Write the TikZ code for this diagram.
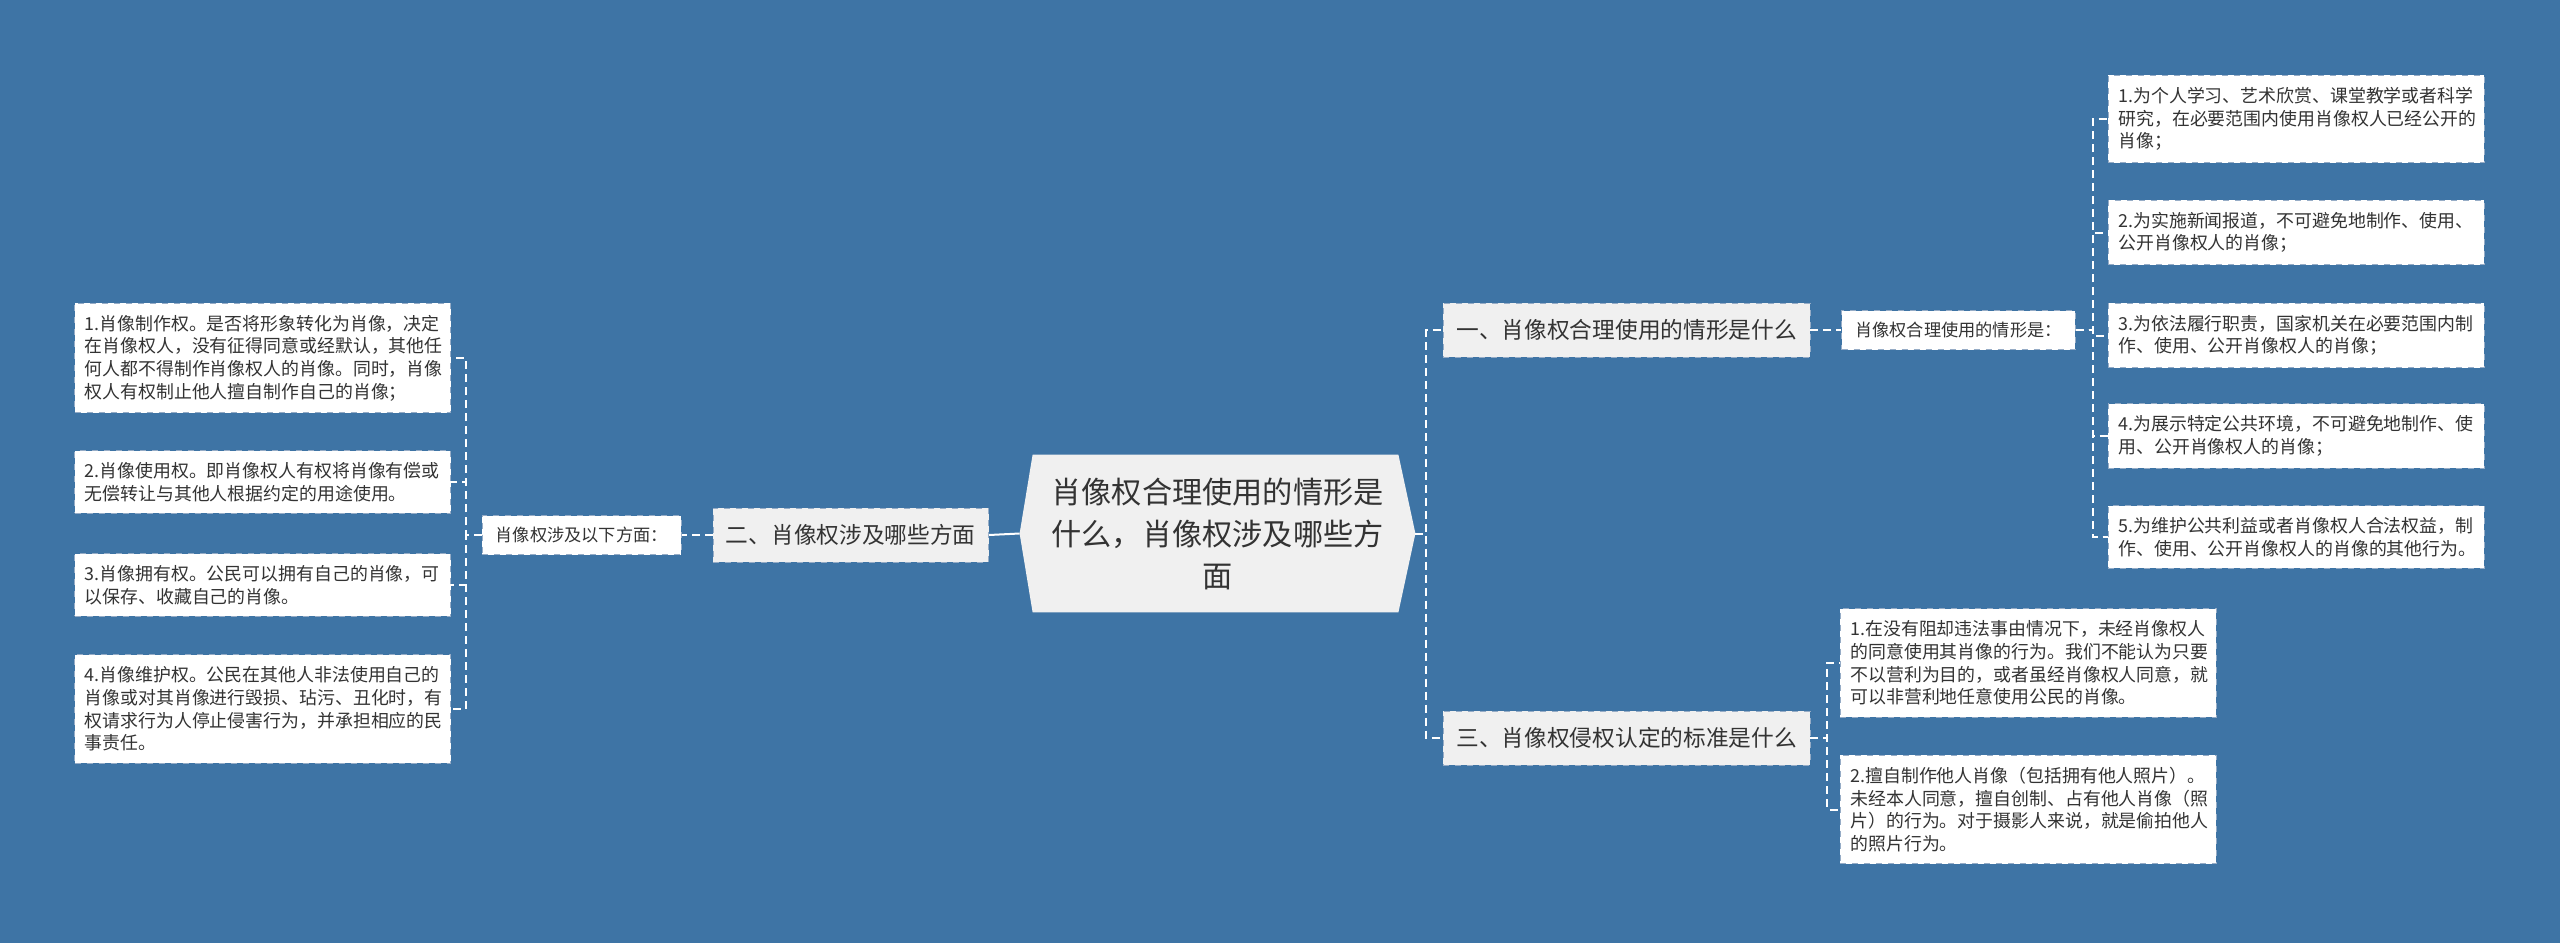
\documentclass[tikz,border=0pt]{standalone}
\usepackage{fontspec}
\setmainfont{Noto Sans CJK SC}
\usetikzlibrary{positioning,backgrounds}
\definecolor{bgblue}{RGB}{62,116,165}
\definecolor{boxgray}{RGB}{240,240,240}
\definecolor{inkgray}{RGB}{51,51,51}
\definecolor{rimgray}{RGB}{150,172,198}
\tikzset{
    every node/.style={text=inkgray},
    link/.style={draw=white,line width=1pt,dash pattern=on 4pt off 2.5pt},
    hub box/.style={minimum width=197.5pt,minimum height=78.5pt,text width=172pt,align=center,
        font=\fontsize{15.1}{21}\selectfont},
    branch box/.style={fill=boxgray,draw=rimgray,dashed,minimum height=27pt,inner xsep=6.5pt,
        font=\fontsize{11.35}{13}\selectfont},
    note box/.style={fill=white,draw=rimgray,dashed,minimum height=19.5pt,inner xsep=6.75pt,
        font=\fontsize{8.6}{10}\selectfont},
    leaf box/.style={fill=white,draw=rimgray,dashed,text width=178pt,inner xsep=5pt,inner ysep=5.9pt,
        align=left,font=\fontsize{8.95}{11.35}\selectfont}
}
\begin{document}
\begin{tikzpicture}[x=0.5pt,y=-0.5pt]
    \useasboundingbox (0,0) rectangle (2560,943);
    \node[hub box] (hub) at (1217.5,533.5) {肖像权合理使用的情形是\\什么，肖像权涉及哪些方\\面};
    \node[branch box,anchor=west] (b1) at (1443,330) {一、肖像权合理使用的情形是什么};
    \node[branch box,anchor=east] (b2) at (989,535) {二、肖像权涉及哪些方面};
    \node[branch box,anchor=west] (b3) at (1443,738) {三、肖像权侵权认定的标准是什么};
    \node[note box,right=15.5pt of b1] (n1) {肖像权合理使用的情形是：};
    \node[note box,left=15.5pt of b2] (n2) {肖像权涉及以下方面：};

    \node[leaf box,anchor=east] (l1) at (451,358) {1.肖像制作权。是否将形象转化为肖像，决定\\在肖像权人，没有征得同意或经默认，其他任\\何人都不得制作肖像权人的肖像。同时，肖像\\权人有权制止他人擅自制作自己的肖像；};
    \node[leaf box,anchor=east] (l2) at (451,482) {2.肖像使用权。即肖像权人有权将肖像有偿或\\无偿转让与其他人根据约定的用途使用。};
    \node[leaf box,anchor=east] (l3) at (451,585) {3.肖像拥有权。公民可以拥有自己的肖像，可\\以保存、收藏自己的肖像。};
    \node[leaf box,anchor=east] (l4) at (451,709) {4.肖像维护权。公民在其他人非法使用自己的\\肖像或对其肖像进行毁损、玷污、丑化时，有\\权请求行为人停止侵害行为，并承担相应的民\\事责任。};

    \node[leaf box,anchor=west] (r1) at (2108,119) {1.为个人学习、艺术欣赏、课堂教学或者科学\\研究，在必要范围内使用肖像权人已经公开的\\肖像；};
    \node[leaf box,anchor=west] (r2) at (2108,232.5) {2.为实施新闻报道，不可避免地制作、使用、\\公开肖像权人的肖像；};
    \node[leaf box,anchor=west] (r3) at (2108,335.5) {3.为依法履行职责，国家机关在必要范围内制\\作、使用、公开肖像权人的肖像；};
    \node[leaf box,anchor=west] (r4) at (2108,436) {4.为展示特定公共环境，不可避免地制作、使\\用、公开肖像权人的肖像；};
    \node[leaf box,anchor=west] (r5) at (2108,537) {5.为维护公共利益或者肖像权人合法权益，制\\作、使用、公开肖像权人的肖像的其他行为。};

    \node[leaf box,anchor=west] (q1) at (1840,663) {1.在没有阻却违法事由情况下，未经肖像权人\\的同意使用其肖像的行为。我们不能认为只要\\不以营利为目的，或者虽经肖像权人同意，就\\可以非营利地任意使用公民的肖像。};
    \node[leaf box,anchor=west] (q2) at (1840,809.5) {2.擅自制作他人肖像（包括拥有他人照片）。\\未经本人同意，擅自创制、占有他人肖像（照\\片）的行为。对于摄影人来说，就是偷拍他人\\的照片行为。};

    \draw[white,line width=1pt] (hub.west) -- (b2.east);
    \draw[link] (hub.east) -- ++(11,0) |- (b1.west);
    \draw[link] (hub.east) -- ++(11,0) |- (b3.west);
    \draw[link] (b2.west) -- (n2.east);
    \draw[link] (b1.east) -- (n1.west);

    \draw[link] (n2.west) -- ++(-16,0) |- (l1.east);
    \draw[link] (n2.west) -- ++(-16,0) |- (l2.east);
    \draw[link] (n2.west) -- ++(-16,0) |- (l3.east);
    \draw[link] (n2.west) -- ++(-16,0) |- (l4.east);

    \draw[link] (n1.east) -- ++(17,0) |- (r1.west);
    \draw[link] (n1.east) -- ++(17,0) |- (r2.west);
    \draw[link] (n1.east) -- ++(17,0) |- (r3.west);
    \draw[link] (n1.east) -- ++(17,0) |- (r4.west);
    \draw[link] (n1.east) -- ++(17,0) |- (r5.west);

    \draw[link] (b3.east) -- ++(17,0) |- (q1.west);
    \draw[link] (b3.east) -- ++(17,0) |- (q2.west);

    \begin{scope}[on background layer]
        \fill[bgblue] (0,0) rectangle (2560,943);
        \fill[boxgray] (hub.west) -- ([xshift=6.5pt]hub.north west) -- ([xshift=-8.5pt]hub.north east)
            -- (hub.east) -- ([xshift=-8.5pt]hub.south east) -- ([xshift=6.5pt]hub.south west) -- cycle;
    \end{scope}
\end{tikzpicture}
\end{document}
